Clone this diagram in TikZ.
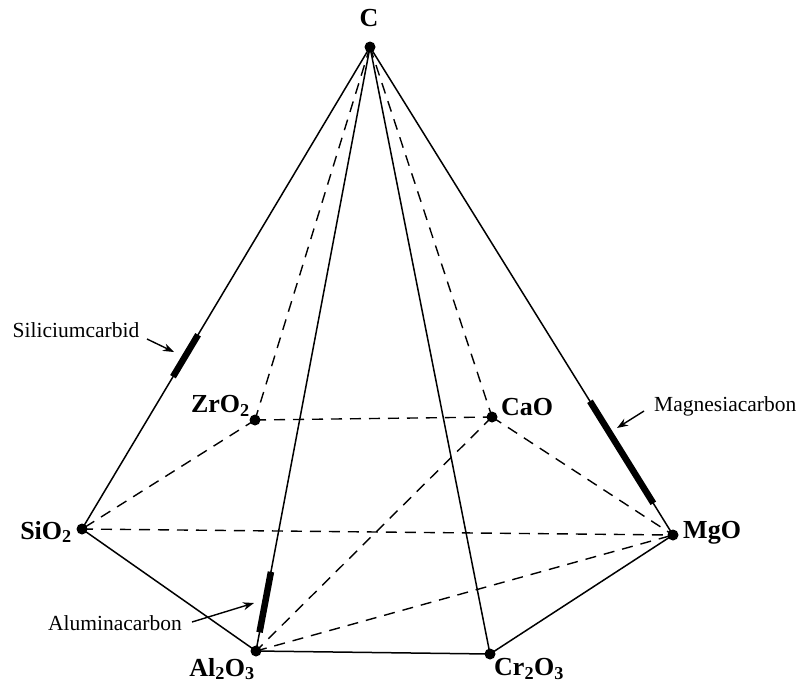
\documentclass[tikz,border=0pt]{standalone}
\usepackage{fontspec}
\setmainfont{Liberation Serif}
\usetikzlibrary{calc,arrows.meta}
\begin{document}
\begin{tikzpicture}[x=1pt,y=-1pt,
  vtx/.style={circle,fill=black,inner sep=0pt,minimum size=11pt},
  lbl/.style={font=\fontsize{26}{29}\selectfont\bfseries,inner sep=0pt},
  note/.style={font=\fontsize{21.5}{24}\selectfont,inner sep=0pt},
  edge/.style={line width=1.5pt},
  hidden/.style={line width=1.4pt,dash pattern=on 11pt off 8pt},
  seg/.style={line width=6.5pt},
  arr/.style={line width=1.4pt,-{Stealth[length=11pt,width=8pt]}}]
\useasboundingbox (0,0) rectangle (799,686);
% vertices
\node[vtx] (C) at (370,47) {};
\node[vtx] (Zr) at (255,420) {};
\node[vtx] (Ca) at (492,417) {};
\node[vtx] (Si) at (82,529) {};
\node[vtx] (Mg) at (673,535) {};
\node[vtx] (Al) at (256,651) {};
\node[vtx] (Cr) at (490,654) {};
% hidden edges
\draw[hidden] (C.center) -- (Zr.center);
\draw[hidden] (C.center) -- (Ca.center);
\draw[hidden] (Zr.center) -- (Ca.center);
\draw[hidden] (Zr.center) -- (Si.center);
\draw[hidden] (Ca.center) -- (Mg.center);
\draw[hidden] (Si.center) -- (Mg.center);
\draw[hidden] (Ca.center) -- (Al.center);
\draw[hidden] (Al.center) -- (Mg.center);
% visible edges
\draw[edge] (C.center) -- (Si.center);
\draw[edge] (C.center) -- (Al.center);
\draw[edge] (C.center) -- (Cr.center);
\draw[edge] (C.center) -- (Mg.center);
\draw[edge] (Si.center) -- (Al.center);
\draw[edge] (Al.center) -- (Cr.center);
\draw[edge] (Cr.center) -- (Mg.center);
% thick segments
\draw[seg] ($(C.center)!0.597!(Si.center)$) coordinate (s1) -- ($(C.center)!0.684!(Si.center)$) coordinate (s2);
\draw[seg] ($(C.center)!0.726!(Mg.center)$) coordinate (m1) -- ($(C.center)!0.935!(Mg.center)$) coordinate (m2);
\draw[seg] ($(C.center)!0.869!(Al.center)$) coordinate (a1) -- ($(C.center)!0.969!(Al.center)$) coordinate (a2);
% labels
\node[lbl] (Ct) at (369,18) {C};
\node[lbl,anchor=east] (Zrt) at (250,406) {ZrO\textsubscript{2}};
\node[lbl,anchor=west] (Cat) at (501,407) {CaO};
\node[lbl,anchor=east] (Sit) at (72,532) {SiO\textsubscript{2}};
\node[lbl,anchor=west] (Mgt) at (683,533) {MgO};
\node[lbl] (Alt) at (222,669) {Al\textsubscript{2}O\textsubscript{3}};
\node[lbl,anchor=west] (Crt) at (494,669) {Cr\textsubscript{2}O\textsubscript{3}};
% notes
\node[note] (sic) at (76,330) {Siliciumcarbid};
\node[note,anchor=west] (mgc) at (654,406) {Magnesiacarbon};
\node[note] (alc) at (115,623) {Aluminacarbon};
\coordinate (sicA) at (147,339);
\coordinate (sicB) at (174,352);
\coordinate (mgcA) at (644,411);
\coordinate (mgcB) at (617,428);
\coordinate (alcA) at (192,622);
\coordinate (alcB) at (254,603);
\draw[arr] (sicA) -- (sicB);
\draw[arr] (mgcA) -- (mgcB);
\draw[arr] (alcA) -- (alcB);
\end{tikzpicture}
\end{document}
